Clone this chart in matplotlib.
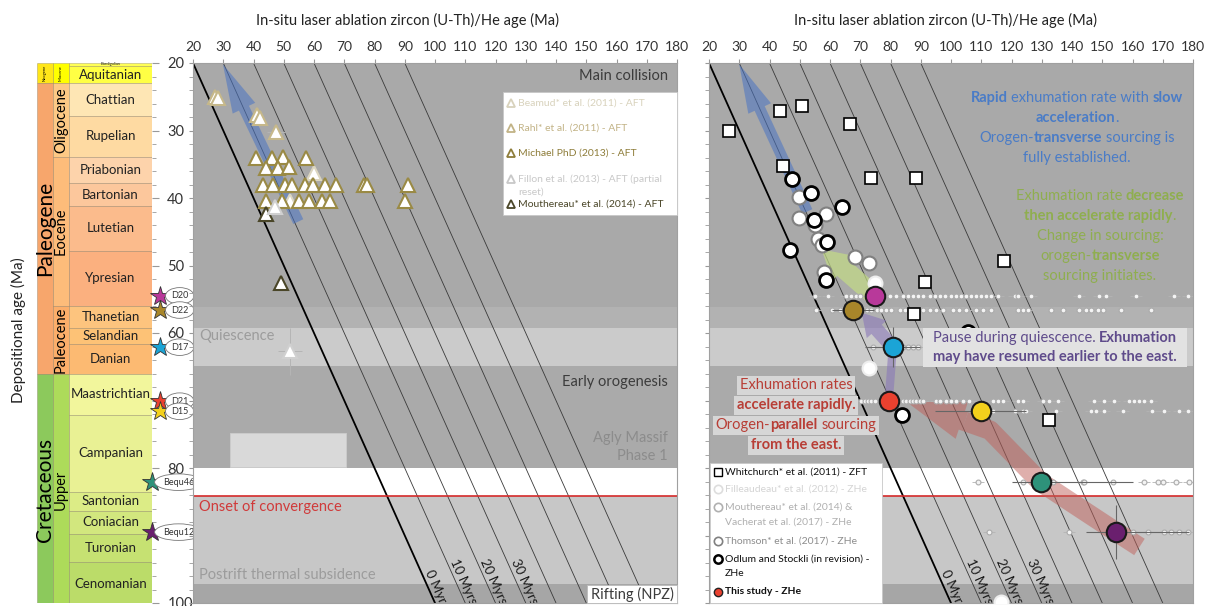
import matplotlib
matplotlib.use("Agg")
import matplotlib.pyplot as plt
import matplotlib.transforms as mtransforms
from matplotlib.patches import Rectangle
from matplotlib.lines import Line2D
from matplotlib.ticker import MultipleLocator
import numpy as np

plt.rcParams['font.family'] = ['Lato', 'DejaVu Sans']

# =============================================================================
# stratigraphic column (Ma)
stage_names = ['Burdigalian', 'Aquitanian', 'Chattian', 'Rupelian', 'Priabonian', 'Bartonian',
               'Lutetian', 'Ypresian', 'Thanetian', 'Selandian', 'Danian', 'Maastrichtian',
               'Campanian', 'Santonian', 'Coniacian', 'Turonian', 'Cenomanian']
stage_top = [20.0, 20.44, 23.03, 27.82, 33.9, 37.8, 41.2, 47.8, 56.0, 59.2, 61.6, 66.0,
             72.1, 83.6, 86.3, 89.8, 93.9]
stage_base = [20.44, 23.03, 27.82, 33.9, 37.8, 41.2, 47.8, 56.0, 59.2, 61.6, 66.0, 72.1,
              83.6, 86.3, 89.8, 93.9, 100.5]
stage_colors = ['#ffff55', '#ffff44', '#fee6b4', '#fedaa2', '#fdd3ab', '#fcc79c', '#fbbb8c',
                '#fbb07f', '#fdc47e', '#fdc276', '#fcba72', '#f2f69c', '#e9f194', '#dcec86',
                '#d2e77e', '#c6e172', '#bbdc69']
epoch_names = ['Miocene', 'Oligocene', 'Eocene', 'Paleocene', 'Upper']
epoch_top = [20.0, 23.03, 33.9, 56.0, 66.0]
epoch_base = [23.03, 33.9, 56.0, 66.0, 100.5]
epoch_colors = ['#ffff00', '#fdc985', '#fdbc7a', '#fcae6a', '#addb5a']
period_names = ['Neogene', 'Paleogene', 'Cretaceous']
period_top = [20.0, 23.03, 66.0]
period_base = [23.03, 66.0, 100.5]
period_colors = ['#ffe619', '#f7a66c', '#8cc95c']
age_ticks = [20, 30, 40, 50, 60, 70, 80, 90, 100]
age_ticklabels = ['20', '30', '40', '50', '60', '', '80', '', '100']   # 70, 90 hidden by sample tags

# tectonic phases (background bands, depositional age)
band_top = [20.0, 56.1, 59.3, 64.9, 80.0, 84.1, 97.2]
band_base = [56.1, 59.3, 64.9, 80.0, 84.1, 97.2, 100.0]
band_colors = ['#a9a9a9', '#b2b2b2', '#cbcbcb', '#aaaaaa', '#ffffff', '#c7c7c7', '#a6a6a6']
convergence_onset = 84.1
agly_x = (32.2, 70.7)
agly_y = (74.8, 79.9)
lags = [0, 10, 20, 30, 40, 50, 60, 70]
lag_labels = {0: '0 Myr', 10: '10 Myrs', 20: '20 Myrs', 30: '30 Myrs'}

# =============================================================================
# left panel: AFT ages (x) vs depositional age (y)
beamud_x = [60.1, 52.1]
beamud_y = [36.3, 40.4]
rahl_x = [27.3, 28.3, 41.1, 42.2, 47.5]
rahl_y = [25.0, 25.2, 27.7, 28.1, 30.2]
rahl_xerr = [0, 0, 0, 0, 3]
michael_x = [40.8, 46.0, 49.9, 57.3, 44.2, 48.2, 51.8,
             43.1, 46.6, 50.5, 52.7, 57.1, 59.6, 63.7, 67.3, 76.4, 77.5, 91.0,
             44.2, 49.4, 54.9, 58.4, 62.6, 65.4, 90.0]
michael_y = [34.1, 34.0, 33.9, 34.0, 35.5, 35.5, 35.4,
             38.0, 38.0, 38.0, 38.0, 38.0, 38.0, 38.0, 38.0, 38.0, 38.0, 38.0,
             40.4, 40.4, 40.4, 40.4, 40.4, 40.4, 40.4]
fillon_x = [47.2, 52.1]
fillon_y = [41.3, 62.7]
fillon_xerr = [0, 4]
fillon_yerr = [0, 3.5]
mouth_aft_x = [44.2, 49.1]
mouth_aft_y = [42.3, 52.6]

# =============================================================================
# right panel: zircon ages
whit_x = [26.7, 43.4, 50.6, 66.5, 44.5, 73.7, 88.5, 117.4, 91.5, 87.7, 132.3]
whit_y = [30.1, 27.1, 26.4, 29.1, 35.2, 37.0, 37.0, 49.3, 52.5, 57.2, 72.9]
odlum_x = [47.3, 53.7, 64.1, 54.7, 58.9, 46.7, 58.6, 105.6, 83.8]
odlum_y = [37.2, 39.2, 41.4, 43.3, 46.5, 47.7, 52.1, 59.8, 72.1]
thomson_x = [49.8, 58.6, 49.8, 56.1, 68.4, 72.9, 57.9, 55.2, 57.5]
thomson_y = [39.8, 42.3, 43.0, 46.0, 48.8, 49.7, 50.9, 44.0, 47.0]
fill_x = [75.0, 72.9, 116.6]
fill_y = [52.6, 65.2, 99.8]

# this study: samples
sample_names = ['D20', 'D22', 'D17', 'D21', 'D15', 'Bequ46', 'Bequ12']
sample_age = [54.5, 56.6, 62.1, 70.1, 71.6, 82.1, 89.5]
sample_zhe = [74.8, 67.5, 80.7, 79.4, 109.8, 129.6, 154.7]
sample_err_lo = [0, 7, 9, 0, 15, 9.3, 10]
sample_err_hi = [0, 7, 9, 0, 15, 30.4, 24]
sample_err_y = [0, 0, 3, 0, 0, 0, 4]
sample_colors = ['#b8399a', '#a8862a', '#1ba4d6', '#e9412f', '#f3d01c', '#2e927a', '#6a1f6e']
# single grain ages per sample
grains = [
    [55.0, 59.4, 65.4, 67.1, 68.7, 69.8, 79.7, 81.9, 84.1, 85.8, 87.4, 89.1, 90.7, 92.9,
     94.6, 96.2, 97.9, 100.1, 101.7, 103.4, 105.0, 106.7, 108.3, 110.0, 111.6, 113.3,
     115.5, 121.0, 122.1, 126.5, 142.4, 149.0, 151.2, 161.1, 173.8, 178.2],
    [55.5, 60.5, 63.2, 72.1, 73.7, 75.4, 77.0, 78.6, 80.3, 83.0, 84.7, 86.3, 88.5, 90.7,
     92.9, 95.1, 97.3, 100.6, 102.8, 105.0, 108.3, 110.5, 113.3, 122.1, 123.7, 125.4,
     133.1, 136.9, 142.4, 144.6, 146.3, 148.5, 150.1, 156.2, 166.1],
    [74.2, 84.1, 85.8, 87.4, 89.1],
    [70.4, 71.5, 72.6, 73.7, 74.8, 84.1, 85.2, 86.3, 87.4, 88.5, 89.6, 90.7, 95.1, 96.2,
     98.4, 100.1, 101.7, 103.9, 106.1, 113.8, 115.5, 117.1, 122.1, 123.7, 130.3, 132.5,
     135.3, 147.4, 150.7, 154.0, 159.0, 160.6, 162.3, 163.9, 166.1],
    [113.8, 121.0, 123.7, 124.8, 134.7, 146.3, 147.9, 150.7, 156.7, 166.6, 170.5, 175.4, 178.2],
    [108.9, 123.7, 133.6, 143.5, 144.1, 153.4, 163.9, 168.3, 170.0, 174.4, 178.8],
    [112.5, 139.1, 160.0, 165.0, 170.5, 172.7, 175.4, 178.2],
]

# =============================================================================
W, H = 1210, 606
fig = plt.figure(figsize=(W / 100, H / 100), dpi=100)
PX = mtransforms.Affine2D().scale(1, -1).translate(0, H)   # figure pixels, y down


def add_ax(x0, y0, x1, y1):
    return fig.add_axes([x0 / W, 1 - y1 / H, (x1 - x0) / W, (y1 - y0) / H])


def rich_line(x, y, markup, color, size, bg=None, pad=3, h=19):
    # one centred line with **bold** parts
    r = fig.canvas.get_renderer()

    def width(s, bold):
        t = fig.text(0, 0, s, fontsize=size, fontweight='bold' if bold else 'normal')
        w = t.get_window_extent(r).width
        t.remove()
        return w
    sp = width('a a', False) - width('aa', False)
    items = []
    for i, s in enumerate(markup.split('**')):
        if not s:
            continue
        bold = i % 2 == 1
        lead = len(s) - len(s.lstrip(' '))
        trail = len(s) - len(s.rstrip(' '))
        core = s.strip(' ')
        items.append((lead * sp, core, bold, width(core, bold), trail * sp))
    total = sum(a + w + c for a, _, _, w, c in items)
    if bg:
        fig.add_artist(Rectangle((x - total / 2 - pad, y - h / 2), total + 2 * pad, h,
                                 transform=PX, fc=bg, ec='none', zorder=2))
    cur = x - total / 2
    for lead, core, bold, w, trail in items:
        cur += lead
        fig.text(cur, y, core, transform=PX, ha='left', va='center', fontsize=size,
                 fontweight='bold' if bold else 'normal', color=color, zorder=3)
        cur += w + trail


# ---- stratigraphic column
ax0 = add_ax(37, 63, 152, 603)
ax0.set_xlim(0, 1)
ax0.set_ylim(100, 20)
edge = (0.45, 0.4, 0.3, 0.35)
for n, t, b, c in zip(period_names, period_top, period_base, period_colors):
    ax0.add_patch(Rectangle((0, t), 0.139, b - t, fc=c, ec=edge, lw=0.6))
    fs = 3 if n == 'Neogene' else 15
    ax0.text(0.07, (t + b) / 2, n, rotation=90, ha='center', va='center', fontsize=fs)
for n, t, b, c in zip(epoch_names, epoch_top, epoch_base, epoch_colors):
    ax0.add_patch(Rectangle((0.139, t), 0.139, b - t, fc=c, ec=edge, lw=0.6))
    fs = 3 if n == 'Miocene' else 10.5
    ax0.text(0.209, (t + b) / 2, n, rotation=90, ha='center', va='center', fontsize=fs)
for n, t, b, c in zip(stage_names, stage_top, stage_base, stage_colors):
    ax0.add_patch(Rectangle((0.278, t), 0.722, b - t, fc=c, ec=edge, lw=0.6))
    fs = 3 if n == 'Burdigalian' else 9.5
    ax0.text(0.64, (t + b) / 2, n, ha='center', va='center', fontsize=fs, color='#222222')
for s in ax0.spines.values():
    s.set_visible(False)
ax0.set_xticks([])
ax0.yaxis.tick_right()
ax0.set_yticks(age_ticks, age_ticklabels)
ax0.yaxis.set_minor_locator(MultipleLocator(2))
ax0.tick_params(axis='y', which='major', length=5, pad=6, labelsize=10.5,
                color='#999999', labelcolor='#333333')
ax0.tick_params(axis='y', which='minor', length=3, color='#999999')
fig.text(18, 330, 'Depositional age (Ma)', transform=PX, rotation=90, ha='center',
         va='center', fontsize=11, color='#222222')

# ---- stars for the samples
axS = add_ax(140, 63, 200, 603)
axS.set_xlim(140, 200)
axS.set_ylim(100, 20)
axS.axis('off')
for n, a, c in zip(sample_names, sample_age, sample_colors):
    sx = 152 if n.startswith('Bequ') else 160
    axS.plot(sx, a, marker='*', ms=15, mfc=c, mec='#333333', mew=0.6, clip_on=False)
    axS.text(sx + 11, a, n, fontsize=6.5, ha='left', va='center', color='#333333',
             bbox=dict(boxstyle='ellipse,pad=0.15', fc='white', ec='#777777', lw=0.6),
             clip_on=False)

# ---- two scatter panels
axL = add_ax(193, 63, 677, 603)
axR = add_ax(709, 63, 1193, 603)
for ax in (axL, axR):
    ax.set_xlim(20, 180)
    ax.set_ylim(100, 20)
    ax.xaxis.tick_top()
    ax.set_xticks(np.arange(20, 181, 10))
    ax.tick_params(axis='x', length=3, pad=4, labelsize=10, color='#999999',
                   labelcolor='#333333')
    ax.yaxis.set_major_locator(MultipleLocator(10))
    ax.yaxis.set_minor_locator(MultipleLocator(2))
    ax.tick_params(axis='y', which='both', length=3, labelleft=False, color='#999999')
    for s in ax.spines.values():
        s.set_color('#a0a0a0')
        s.set_linewidth(0.8)
    for t, b, c in zip(band_top, band_base, band_colors):
        ax.axhspan(t, b, color=c, lw=0, zorder=0)
    ax.axhline(convergence_onset, color='#d42a2a', lw=1.2, zorder=1.5)
    dep = np.array([20.0, 100.0])
    for L in lags:
        ax.plot(dep + L, dep, color='black' if L == 0 else '#3a3a3a',
                lw=1.3 if L == 0 else 0.6, zorder=1)
    p1 = ax.transData.transform((20, 20))
    p2 = ax.transData.transform((100, 100))
    ang = np.degrees(np.arctan2(p2[1] - p1[1], p2[0] - p1[0]))
    for L, lab in lag_labels.items():
        y0 = 95.6 if L == 0 else 94.0
        ax.text(y0 + L + 0.3, y0, lab, rotation=ang, rotation_mode='anchor', ha='left',
                va='bottom', fontsize=9.5, color='#1a1a1a', clip_on=True, zorder=1.6)

# ---- left panel content
axL.add_patch(Rectangle((agly_x[0], agly_y[0]), agly_x[1] - agly_x[0], agly_y[1] - agly_y[0],
                        fc='#d9d9d9', ec='#cccccc', lw=0.6, zorder=0.5))
axL.annotate('', xy=(29.9, 20.2), xytext=(54.8, 43.5),
             arrowprops=dict(arrowstyle='simple,head_length=35,head_width=18,tail_width=8',
                             fc='#4a74c4', ec='none', alpha=0.55, mutation_scale=1,
                             shrinkA=0, shrinkB=0), zorder=2)
tri = dict(marker='^', ms=10.5, mfc='white', mew=1.5, ls='none', zorder=3)
axL.errorbar(rahl_x, rahl_y, xerr=rahl_xerr, ecolor='#b5b5b5', elinewidth=0.7,
             mec='#c6b88a', **tri)
axL.plot(beamud_x, beamud_y, mec='#dcd6c0', **tri)
axL.plot(michael_x, michael_y, mec='#9a8a45', **tri)
axL.errorbar(fillon_x, fillon_y, xerr=fillon_xerr, yerr=fillon_yerr, ecolor='#b5b5b5',
             elinewidth=0.7, mec='#d0d0d0', **tri)
axL.plot(mouth_aft_x, mouth_aft_y, mec='#4a4628', **tri)

band_text = [('Main collision', 668, 76, 'right', '#3c3c3c'),
             ('Quiescence', 199, 336, 'left', '#9c9c9c'),
             ('Early orogenesis', 668, 382, 'right', '#3c3c3c'),
             ('Agly Massif', 668, 438, 'right', '#8c8c8c'),
             ('Phase 1', 668, 456, 'right', '#8c8c8c'),
             ('Onset of convergence', 199, 507, 'left', '#d03a3a'),
             ('Postrift thermal subsidence', 199, 575, 'left', '#9c9c9c')]
for s, x, y, ha, c in band_text:
    axL.text(x, y, s, transform=PX, ha=ha, va='center', fontsize=10.5, color=c, zorder=4)
axL.add_patch(Rectangle((587, 585), 90, 18, transform=PX, fc='white', ec='#bbbbbb',
                        lw=0.6, zorder=4, clip_on=False))
axL.text(632, 594, 'Rifting (NPZ)', transform=PX, ha='center', va='center',
         fontsize=10.5, color='#3c3c3c', zorder=5)

# left legend
fig.add_artist(Rectangle((503, 92), 174, 123, transform=PX, fc='white', ec='#c8c8c8', lw=0.6))
left_leg = [(103, 'Beamud* et al. (2011) - AFT', '#d8d2bc', True),
            (128, 'Rahl* et al. (2011) - AFT', '#c2b386', True),
            (153, 'Michael PhD (2013) - AFT', '#8e7d3a', True),
            (179, 'Fillon et al. (2013) - AFT (partial', '#c8c8c8', True),
            (192, 'reset)', '#c8c8c8', False),
            (204, 'Mouthereau* et al. (2014) - AFT', '#4a4628', True)]
for y, s, c, mk in left_leg:
    if mk:
        fig.add_artist(Line2D([511], [y], transform=PX, marker='^', ms=6, mfc='white',
                              mec=c, mew=1.3))
    fig.text(518, y, s, transform=PX, ha='left', va='center', fontsize=7.5, color=c)

# ---- right panel content
arrow = dict(mutation_scale=1, shrinkA=0, shrinkB=0, ec='none')
axR.annotate('', xy=(30.0, 20.2), xytext=(52.5, 42.0),
             arrowprops=dict(arrowstyle='simple,head_length=35,head_width=18,tail_width=8',
                             fc='#4a74c4', alpha=0.55, **arrow), zorder=2)
axR.annotate('', xy=(57.2, 47.6), xytext=(74.8, 54.5),
             arrowprops=dict(arrowstyle='simple,head_length=21,head_width=24,tail_width=14',
                             fc='#c3dc86', alpha=0.7, **arrow), zorder=2)
axR.annotate('', xy=(70.5, 57.0), xytext=(80.7, 62.1),
             arrowprops=dict(arrowstyle='simple,head_length=16,head_width=19,tail_width=10',
                             fc='#8a78b8', alpha=0.6, **arrow), zorder=2)
axR.plot([79.6, 80.6], [69.0, 63.0], color='#8a78b8', alpha=0.6, lw=6,
         solid_capstyle='butt', zorder=2)
# red path: body then head, butted together
axR.plot([162.3, 154.7, 129.6, 112.9, 104.6], [91.7, 89.5, 82.1, 74.4, 73.1], color='#c0605a',
         alpha=0.5, lw=14, solid_capstyle='butt', solid_joinstyle='round', zorder=2)
axR.annotate('', xy=(85.3, 70.2), xytext=(104.6, 73.1),
             arrowprops=dict(arrowstyle='simple,head_length=42,head_width=28,tail_width=14',
                             fc='#c0605a', alpha=0.5, **arrow), zorder=2)

for g, a in zip(grains, sample_age):
    axR.errorbar(g, [a] * len(g), xerr=2.0, fmt='o', ms=3.5, mfc='#f4f4f4', mec='#ababab',
                 mew=0.8, ecolor='#b4b4b4', elinewidth=0.6, zorder=2.5)
circ = dict(marker='o', ms=10, mfc='white', ls='none', zorder=3)
axR.plot(fill_x, fill_y, mec='#eeeeee', mew=1.5, **circ)
axR.plot(thomson_x, thomson_y, mec='#808080', mew=1.5, **circ)
axR.plot(odlum_x, odlum_y, mec='black', mew=2.0, **circ)
axR.plot(whit_x, whit_y, marker='s', ms=9, mfc='white', mec='black', mew=1.2, ls='none',
         zorder=3)
for x, a, lo, hi, ey, c in zip(sample_zhe, sample_age, sample_err_lo, sample_err_hi,
                               sample_err_y, sample_colors):
    axR.errorbar([x], [a], xerr=[[lo], [hi]], yerr=[[ey], [ey]], fmt='o', ms=14, mfc=c,
                 mec='#1a1a1a', mew=1.5, ecolor='#666666', elinewidth=0.8, zorder=4)

# right panel notes
blue = '#4a7cc7'
for i, s in enumerate(['**Rapid** exhumation rate with **slow**', '**acceleration**.',
                       'Orogen-**transverse** sourcing is', 'fully established.']):
    rich_line(1077, 98 + 20 * i, s, blue, 10.5)
green = '#8fae4f'
for i, s in enumerate(['Exhumation rate **decrease**', '**then accelerate rapidly**.',
                       'Change in sourcing:', 'orogen-**transverse**', 'sourcing initiates.']):
    rich_line(1100, 196 + 20 * i, s, green, 10.5)
fig.add_artist(Rectangle((923, 328), 264, 39, transform=PX, fc='#e2e2e2', ec='none', zorder=1.9))
purple = '#5f4b8b'
for i, s in enumerate(['Pause during quiescence. **Exhumation**',
                       '**may have resumed earlier to the east.**']):
    rich_line(1055, 338 + 19 * i, s, purple, 10.5)
red = '#b83e36'
for i, s in enumerate(['Exhumation rates', '**accelerate rapidly.**',
                       'Orogen-**parallel** sourcing', '**from the east.**']):
    rich_line(796, 385 + 20 * i, s, red, 10.5, bg='#d6d6d6')

# right legend
fig.add_artist(Rectangle((710, 463), 172, 140, transform=PX, fc='white', ec='#c8c8c8', lw=0.6))
right_leg = [(472, 'Whitchurch* et al. (2011) - ZFT', '#111111', 's', 'white', 'black', 1.0, 'normal'),
             (489, 'Filleaudeau* et al. (2012) - ZHe', '#d4d4d4', 'o', 'white', '#dddddd', 1.2, 'normal'),
             (507, 'Mouthereau* et al. (2014) &', '#b0b0b0', 'o', 'white', '#b0b0b0', 1.2, 'normal'),
             (522, 'Vacherat et al. (2017) - ZHe', '#b0b0b0', None, None, None, 0, 'normal'),
             (541, 'Thomson* et al. (2017) - ZHe', '#8c8c8c', 'o', 'white', '#808080', 1.2, 'normal'),
             (559, 'Odlum and Stockli (in revision) -', '#111111', 'o', 'white', 'black', 1.8, 'normal'),
             (574, 'ZHe', '#111111', None, None, None, 0, 'normal'),
             (592, 'This study - ZHe', '#111111', 'o', '#e9412f', '#222222', 1.0, 'bold')]
for y, s, c, mk, fc, ec, mw, fw in right_leg:
    if mk:
        fig.add_artist(Line2D([718], [y], transform=PX, marker=mk, ms=6, mfc=fc, mec=ec, mew=mw))
    fig.text(725, y, s, transform=PX, ha='left', va='center', fontsize=7.5, color=c,
             fontweight=fw)

# axis titles
for cx in (408, 945):
    fig.text(cx, 20, 'In-situ laser ablation zircon (U-Th)/He age (Ma)', transform=PX,
             ha='center', va='center', fontsize=10.5, color='#222222')

fig.savefig('out.png', dpi=100)
